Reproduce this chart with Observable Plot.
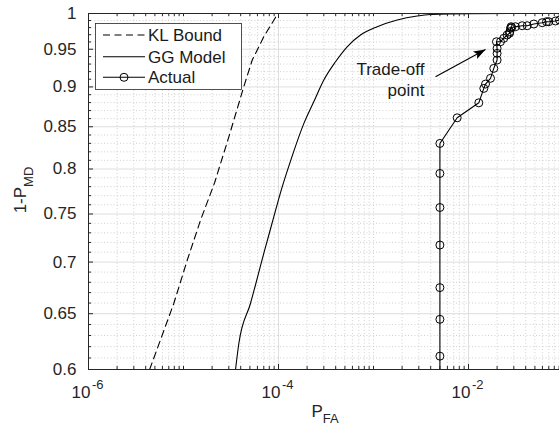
<!DOCTYPE html>
<html><head><meta charset="utf-8">
<script src="https://cdn.jsdelivr.net/npm/d3@7"></script>
<script src="https://cdn.jsdelivr.net/npm/@observablehq/plot@0.6"></script>
<style>
html,body{margin:0;padding:0;background:#fff;}
#chart{position:relative;width:559px;height:426px;overflow:hidden;}
</style></head><body><div id="chart"></div>
<script>
// ---- data ----
const klBoundPFA = [4.4e-6, 4.68e-6, 7.9e-6, 1.094e-5, 1.51e-5, 2.12e-5, 3.0e-5, 4.31e-5, 5.29e-5, 7.0e-5, 9.8e-5];
const klBoundPD  = [0.6, 0.606, 0.6596, 0.7018, 0.7433, 0.7841, 0.8377, 0.9002, 0.9354, 0.9672, 0.9995];

const ggModelPFA = [3.53e-5, 3.82e-5, 5.07e-5, 7.0e-5, 8.92e-5, 1.03e-4, 1.37e-4, 1.85e-4, 2.35e-4, 3.0e-4, 3.98e-4, 5.28e-4, 7.3e-4, 1.094e-3, 1.776e-3, 2.88e-3, 3.98e-3, 1e-2, 1e-1];
const ggModelPD  = [0.6, 0.6226, 0.6596, 0.7087, 0.7468, 0.7704, 0.8126, 0.8541, 0.881, 0.909, 0.9331, 0.9534, 0.9696, 0.9812, 0.9907, 0.9964, 0.9985, 0.9998, 1];

const actualPFA = [5e-3, 5e-3, 5e-3, 5e-3, 5e-3, 5e-3, 5e-3, 5e-3, 7.6e-3, 1.284e-2, 1.449e-2, 1.51e-2, 1.705e-2, 1.846e-2, 2.0e-2, 2.0e-2, 2.0e-2, 1.97e-2, 2.17e-2, 2.35e-2, 2.55e-2, 2.7e-2, 2.72e-2, 2.77e-2, 2.81e-2, 2.85e-2, 3.12e-2, 3.67e-2, 4.15e-2, 4.87e-2, 5.97e-2, 6.62e-2, 7.0e-2, 8.24e-2, 9.08e-2];
const actualPD  = [0.58, 0.6116, 0.6448, 0.6748, 0.7173, 0.757, 0.7949, 0.8299, 0.861, 0.8797, 0.8981, 0.9037, 0.9112, 0.9243, 0.9354, 0.9444, 0.9513, 0.9603, 0.9603, 0.965, 0.9696, 0.972, 0.9742, 0.979, 0.9812, 0.98, 0.9812, 0.9826, 0.9826, 0.985, 0.9869, 0.9883, 0.9883, 0.9893, 0.9907];

const xMajorTicks = [1e-6, 1e-4, 1e-2];
const xTickBase = ["10", "10", "10"];
const xTickExponents = ["-6", "-4", "-2"];
const yTicks = [0.6, 0.65, 0.7, 0.75, 0.8, 0.85, 0.9, 0.95, 1];
const yTickLabels = ["0.6", "0.65", "0.7", "0.75", "0.8", "0.85", "0.9", "0.95", "1"];
const legendLabels = ["KL Bound", "GG Model", "Actual"];
const annotationLines = "Trade-off\npoint";
const annotationTextAt = {x: 3.44e-3, y: 0.9106};
const annotationArrow = {x1: 4.494e-3, y1: 0.9133, x2: 1.51e-2, y2: 0.9498};

// ---- tables ----
const kl = klBoundPFA.map((x, i) => ({x, y: klBoundPD[i]}));
const gg = ggModelPFA.map((x, i) => ({x, y: ggModelPD[i]}));
const act = actualPFA.map((x, i) => ({x, y: actualPD[i]}));
const actVisible = act.filter(d => d.y >= 0.6);

// minor tick / grid positions
const xMinor = [];
for (let e = -6; e <= -2; e++) for (let k = 1; k <= 9; k++) {
  const v = k * Math.pow(10, e);
  if (k === 1 && e % 2 === 0) continue;
  xMinor.push(v);
}
xMinor.push(1e-1);
const yMinor = [];
for (let i = 61; i <= 99; i++) if (i % 5 !== 0) yMinor.push(i / 100);

const W = 559, H = 426, mL = 88, mR = 0, mT = 13, mB = 57;
const innerH = H - mT - mB, innerW = W - mL - mR;
const axisColor = "#262626";

const ang = -29 * Math.PI / 180;
const arrowHead = {draw(ctx) {
  const pts = [[0, 0], [-12, -4.2], [-9.5, 0], [-12, 4.2]];
  const c = Math.cos(ang), s = Math.sin(ang);
  pts.forEach(([px, py], i) => {
    const X = px * c - py * s, Y = px * s + py * c;
    if (i) ctx.lineTo(X, Y); else ctx.moveTo(X, Y);
  });
  ctx.closePath();
}};

const chart = Plot.plot({
  width: W, height: H,
  marginLeft: mL, marginRight: mR, marginTop: mT, marginBottom: mB,
  style: {fontFamily: "'Liberation Sans', Arial, Helvetica, sans-serif", fontSize: "17px", color: axisColor, background: "#fff"},
  x: {type: "log", domain: [1e-6, 1e-1], range: [88, 563], label: null},
  y: {type: "log", domain: [0.6, 1], label: null},
  marks: [
    // grids
    Plot.ruleX(xMinor, {x: d => d, stroke: "#c4c4c4", strokeWidth: 0.8, strokeDasharray: "1,2.2"}),
    Plot.ruleY(yMinor, {y: d => d, stroke: "#c4c4c4", strokeWidth: 0.8, strokeDasharray: "1,2.2"}),
    Plot.ruleX(xMajorTicks, {x: d => d, stroke: "#dedede", strokeWidth: 1}),
    Plot.ruleY(yTicks, {y: d => d, stroke: "#dedede", strokeWidth: 1}),
    // series
    Plot.line(kl, {x: "x", y: "y", stroke: "#000", strokeWidth: 1.1, strokeDasharray: "7,4.5", clip: true}),
    Plot.line(gg, {x: "x", y: "y", stroke: "#000", strokeWidth: 1.1, curve: "monotone-x", clip: true}),
    Plot.line(act, {x: "x", y: "y", stroke: "#000", strokeWidth: 1.1, clip: true}),
    Plot.dot(actVisible, {x: "x", y: "y", r: 4, stroke: "#000", fill: "none", strokeWidth: 1, clip: true}),
    // annotation
    Plot.text([annotationTextAt], {x: "x", y: "y", text: () => annotationLines, textAnchor: "end", lineAnchor: "middle", lineHeight: 1.27, fontSize: 17, fill: "#1a1a1a"}),
    Plot.link([annotationArrow], {x1: "x1", y1: "y1", x2: "x2", y2: "y2", stroke: "#000", strokeWidth: 1.1}),
    Plot.dot([annotationArrow], {x: "x2", y: "y2", symbol: arrowHead, r: 6, fill: "#000", stroke: "none"}),
    // axes box
    Plot.ruleX([1e-6], {x: d => d, stroke: axisColor, strokeWidth: 1}),
    Plot.ruleY([0.6], {y: d => d, stroke: axisColor, strokeWidth: 1}),
    Plot.ruleY([1], {y: d => d, stroke: axisColor, strokeWidth: 1}),
    // inward ticks
    Plot.tickX(xMajorTicks, {x: d => d, insetTop: innerH - 5, stroke: axisColor}),
    Plot.tickX(xMajorTicks, {x: d => d, insetBottom: innerH - 5, stroke: axisColor}),
    Plot.tickX(xMinor, {x: d => d, insetTop: innerH - 3, stroke: axisColor}),
    Plot.tickX(xMinor, {x: d => d, insetBottom: innerH - 3, stroke: axisColor}),
    Plot.tickY(yTicks, {y: d => d, insetRight: innerW - 5, stroke: axisColor}),
    Plot.tickY(yMinor, {y: d => d, insetRight: innerW - 3, stroke: axisColor}),
    // tick labels
    Plot.axisX(xMajorTicks, {tickSize: 0, tickPadding: 16, tickFormat: d => xTickBase[xMajorTicks.indexOf(d)], textAnchor: "end", dx: 2, fontSize: 17, label: null}),
    Plot.axisX(xMajorTicks, {tickSize: 0, tickPadding: 10, tickFormat: d => xTickExponents[xMajorTicks.indexOf(d)], textAnchor: "start", dx: 3.5, fontSize: 13, label: null}),
    Plot.axisY(yTicks, {tickSize: 0, tickPadding: 12, tickFormat: d => yTickLabels[yTicks.indexOf(d)], fontSize: 17, label: null})
  ]
});

document.getElementById("chart").appendChild(chart);

// ---- axis titles with subscripts ----
const svg = d3.select(chart);
const ff = "'Liberation Sans', Arial, Helvetica, sans-serif";
const yl = svg.append("text")
  .attr("transform", "translate(25.5,190) rotate(-90)")
  .attr("text-anchor", "middle").attr("font-family", ff).attr("font-size", 17).attr("fill", axisColor);
yl.append("tspan").text("1-P");
yl.append("tspan").attr("dy", 7.5).attr("font-size", 13).text("MD");

const xl = svg.append("text")
  .attr("x", 325).attr("y", 416.5)
  .attr("text-anchor", "middle").attr("font-family", ff).attr("font-size", 17).attr("fill", axisColor);
xl.append("tspan").text("P");
xl.append("tspan").attr("dy", 6).attr("font-size", 13).text("FA");

// ---- legend ----
const lg = svg.append("g").attr("text-anchor", "start");
lg.append("rect").attr("x", 95.5).attr("y", 23.5).attr("width", 146).attr("height", 66)
  .attr("fill", "#fff").attr("stroke", axisColor).attr("stroke-width", 0.8);
const rowsY = [35, 56.7, 77.3];
const dashes = ["7,4.5", null, null];
legendLabels.forEach((lab, i) => {
  const ln = lg.append("line").attr("x1", 103).attr("x2", 145).attr("y1", rowsY[i]).attr("y2", rowsY[i])
    .attr("stroke", "#000").attr("stroke-width", 1.1);
  if (dashes[i]) ln.attr("stroke-dasharray", dashes[i]);
  if (i === 2) lg.append("circle").attr("cx", 124).attr("cy", rowsY[i]).attr("r", 4)
    .attr("fill", "none").attr("stroke", "#000");
  lg.append("text").attr("x", 148).attr("y", rowsY[i] + 6).attr("text-anchor", "start").attr("font-family", ff)
    .attr("font-size", 17).attr("fill", "#1a1a1a").text(lab);
});
</script></body></html>
